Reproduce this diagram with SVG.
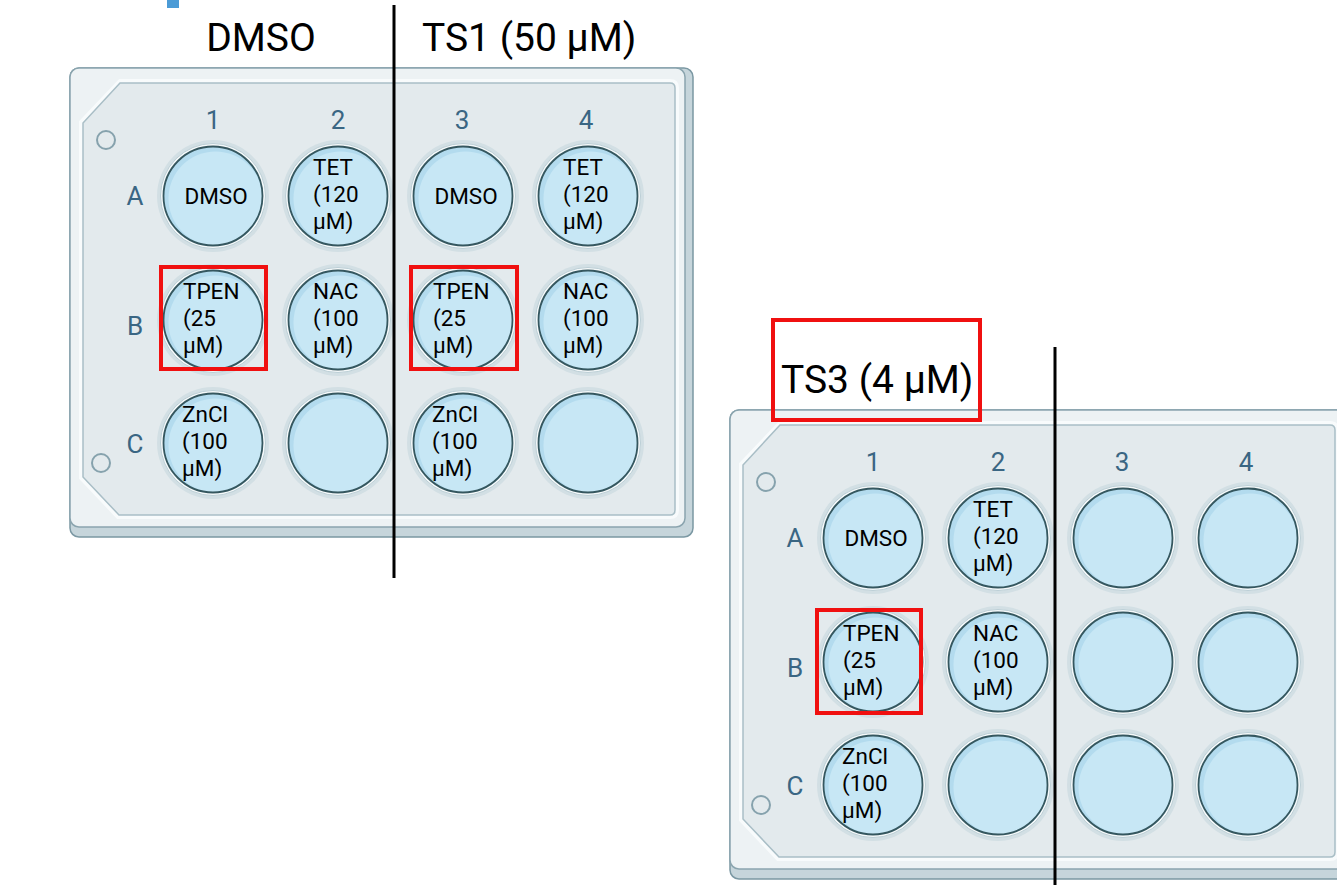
<svg xmlns="http://www.w3.org/2000/svg" xmlns:xlink="http://www.w3.org/1999/xlink" width="1337" height="885" viewBox="0 0 1337 885">
<style>
.title{font-family:Roboto,"Liberation Sans",sans-serif;font-size:39px;fill:#000}
.lab{font-family:Roboto,"Liberation Sans",sans-serif;font-size:26px;fill:#3a6683;text-anchor:middle}
.wt{font-family:Roboto,"Liberation Sans",sans-serif;font-size:22.5px;fill:#000}
.mid{text-anchor:middle}
.red{fill:none;stroke:#f01010;stroke-width:4}
.vline{stroke:#000;stroke-width:3}
</style>
<defs>
<g id="plateBody">
<rect x="0" y="0" width="623" height="469" rx="9" fill="#c6d5db" stroke="#7b98a3" stroke-width="1.5"/>
<rect x="0" y="0" width="615" height="459" rx="9" fill="#edf2f4" stroke="#8aa4ae" stroke-width="1.5"/>
<path d="M50,13 H600 Q607,13 607,20 V442 Q607,449 600,449 H48 L11,410 V54 Z" fill="#e3eaed" stroke="#f8fbfc" stroke-width="4"/>
<path d="M50,15 H600 Q605,15 605,20 V442 Q605,447 600,447 H49 L13,409 V55 Z" fill="#e3eaed" stroke="#a9bec6" stroke-width="1.5"/>
<circle cx="36" cy="72" r="9" fill="none" stroke="#86a2ad" stroke-width="2"/>
<circle cx="31" cy="395" r="9" fill="none" stroke="#86a2ad" stroke-width="2"/>
</g>
<g id="well">
<circle r="56" fill="#d2dfe4"/>
<circle r="52.5" fill="#f5f9fa" stroke="#bccfd6" stroke-width="1"/>
<circle r="49.5" fill="#b3dbee"/>
<circle cx="2.5" cy="2.5" r="47" fill="#c7e7f5"/>
<circle r="49.5" fill="none" stroke="#35575f" stroke-width="1.8"/>
</g>
</defs>

<rect x="167" y="0" width="12" height="8" fill="#4b9bd6"/>

<g id="plate1" transform="translate(70,68)">
<use xlink:href="#plateBody"/>
<text class="lab" x="143" y="61">1</text>
<text class="lab" x="268" y="61">2</text>
<text class="lab" x="392" y="61">3</text>
<text class="lab" x="516" y="61">4</text>
<text class="lab" x="65" y="137">A</text>
<text class="lab" x="65" y="267">B</text>
<text class="lab" x="65" y="385">C</text>
<g id="p1-A1" transform="translate(143,128)"><use xlink:href="#well"/><text class="wt mid" x="3" y="8">DMSO</text></g>
<g id="p1-A2" transform="translate(268,128)"><use xlink:href="#well"/><text class="wt" x="-25" y="-21">TET</text><text class="wt" x="-25" y="6">(120</text><text class="wt" x="-25" y="33">μM)</text></g>
<g id="p1-A3" transform="translate(393,128)"><use xlink:href="#well"/><text class="wt mid" x="3" y="8">DMSO</text></g>
<g id="p1-A4" transform="translate(518,128)"><use xlink:href="#well"/><text class="wt" x="-25" y="-21">TET</text><text class="wt" x="-25" y="6">(120</text><text class="wt" x="-25" y="33">μM)</text></g>
<g id="p1-B1" transform="translate(143,252)"><use xlink:href="#well"/><text class="wt" x="-30" y="-21">TPEN</text><text class="wt" x="-30" y="6">(25</text><text class="wt" x="-30" y="33">μM)</text></g>
<g id="p1-B2" transform="translate(268,252)"><use xlink:href="#well"/><text class="wt" x="-25" y="-21">NAC</text><text class="wt" x="-25" y="6">(100</text><text class="wt" x="-25" y="33">μM)</text></g>
<g id="p1-B3" transform="translate(393,252)"><use xlink:href="#well"/><text class="wt" x="-30" y="-21">TPEN</text><text class="wt" x="-30" y="6">(25</text><text class="wt" x="-30" y="33">μM)</text></g>
<g id="p1-B4" transform="translate(518,252)"><use xlink:href="#well"/><text class="wt" x="-25" y="-21">NAC</text><text class="wt" x="-25" y="6">(100</text><text class="wt" x="-25" y="33">μM)</text></g>
<g id="p1-C1" transform="translate(143,375)"><use xlink:href="#well"/><text class="wt" x="-31" y="-21">ZnCl</text><text class="wt" x="-31" y="6">(100</text><text class="wt" x="-31" y="33">μM)</text></g>
<g id="p1-C2" transform="translate(268,375)"><use xlink:href="#well"/></g>
<g id="p1-C3" transform="translate(393,375)"><use xlink:href="#well"/><text class="wt" x="-31" y="-21">ZnCl</text><text class="wt" x="-31" y="6">(100</text><text class="wt" x="-31" y="33">μM)</text></g>
<g id="p1-C4" transform="translate(518,375)"><use xlink:href="#well"/></g>
</g>

<g id="plate2" transform="translate(730,410)">
<use xlink:href="#plateBody"/>
<text class="lab" x="143" y="61">1</text>
<text class="lab" x="268" y="61">2</text>
<text class="lab" x="392" y="61">3</text>
<text class="lab" x="516" y="61">4</text>
<text class="lab" x="65" y="137">A</text>
<text class="lab" x="65" y="267">B</text>
<text class="lab" x="65" y="385">C</text>
<g id="p2-A1" transform="translate(143,128)"><use xlink:href="#well"/><text class="wt mid" x="3" y="8">DMSO</text></g>
<g id="p2-A2" transform="translate(268,128)"><use xlink:href="#well"/><text class="wt" x="-25" y="-21">TET</text><text class="wt" x="-25" y="6">(120</text><text class="wt" x="-25" y="33">μM)</text></g>
<g id="p2-A3" transform="translate(393,128)"><use xlink:href="#well"/></g>
<g id="p2-A4" transform="translate(518,128)"><use xlink:href="#well"/></g>
<g id="p2-B1" transform="translate(143,252)"><use xlink:href="#well"/><text class="wt" x="-30" y="-21">TPEN</text><text class="wt" x="-30" y="6">(25</text><text class="wt" x="-30" y="33">μM)</text></g>
<g id="p2-B2" transform="translate(268,252)"><use xlink:href="#well"/><text class="wt" x="-25" y="-21">NAC</text><text class="wt" x="-25" y="6">(100</text><text class="wt" x="-25" y="33">μM)</text></g>
<g id="p2-B3" transform="translate(393,252)"><use xlink:href="#well"/></g>
<g id="p2-B4" transform="translate(518,252)"><use xlink:href="#well"/></g>
<g id="p2-C1" transform="translate(143,375)"><use xlink:href="#well"/><text class="wt" x="-31" y="-21">ZnCl</text><text class="wt" x="-31" y="6">(100</text><text class="wt" x="-31" y="33">μM)</text></g>
<g id="p2-C2" transform="translate(268,375)"><use xlink:href="#well"/></g>
<g id="p2-C3" transform="translate(393,375)"><use xlink:href="#well"/></g>
<g id="p2-C4" transform="translate(518,375)"><use xlink:href="#well"/></g>
</g>

<g id="titles">
<text class="title" x="261" y="51" text-anchor="middle">DMSO</text>
<text class="title" x="422" y="51">TS1 (50 μM)</text>
<text class="title" x="781" y="393">TS3 (4 μM)</text>
</g>

<g id="connectors">
<line class="vline" x1="394" y1="5" x2="394" y2="578"/>
<line class="vline" x1="1055" y1="347" x2="1055" y2="885"/>
</g>

<g id="highlights">
<rect class="red" x="161" y="267" width="105" height="102"/>
<rect class="red" x="411" y="267" width="106" height="102"/>
<rect class="red" x="817" y="610" width="104" height="103"/>
<rect class="red" x="773" y="320" width="207" height="100" stroke-width="5"/>
</g>
</svg>
